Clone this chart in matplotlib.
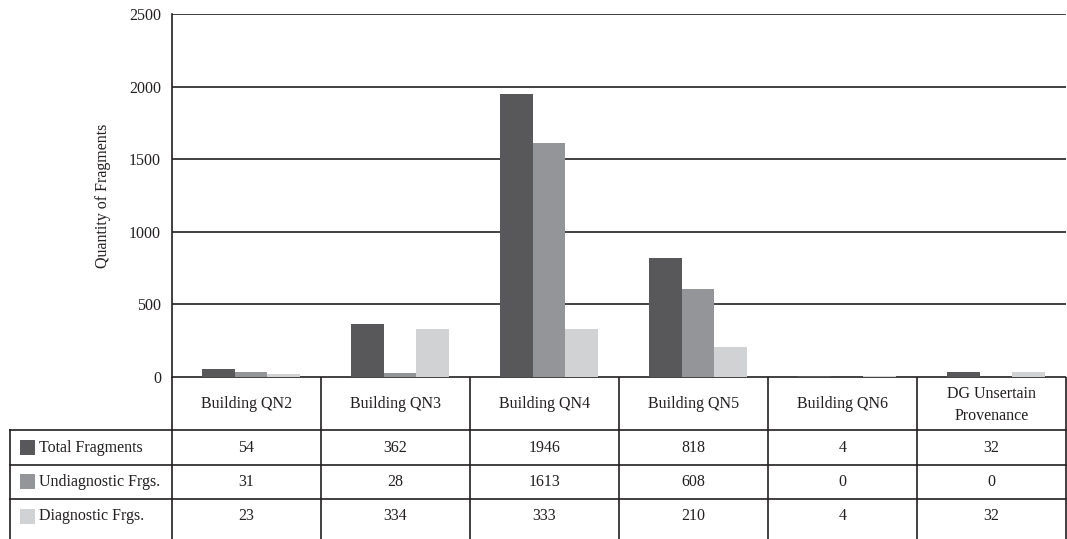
import matplotlib
matplotlib.use('Agg')
import matplotlib.pyplot as plt
import numpy as np
from matplotlib.patches import Rectangle

plt.rcParams['font.family'] = ['Liberation Serif', 'DejaVu Serif']

# Data
categories = ['Building QN2', 'Building QN3', 'Building QN4', 'Building QN5',
              'Building QN6', 'DG Unsertain\nProvenance']
series_names = ['Total Fragments', 'Undiagnostic Frgs.', 'Diagnostic Frgs.']
total = [54, 362, 1946, 818, 4, 32]
undiag = [31, 28, 1613, 608, 0, 0]
diag = [23, 334, 333, 210, 4, 32]
colors = ['#58585a', '#939598', '#d1d2d4']
yticks = [0, 500, 1000, 1500, 2000, 2500]

FS = 11.5
TXT = '#231f20'
W, H = 1067, 539
fig = plt.figure(figsize=(W / 100, H / 100), dpi=100, facecolor='white')

# plot area in pixels
x0, x1, ytop, ybot = 172, 1066, 14, 377
ax = fig.add_axes([x0 / W, 1 - ybot / H, (x1 - x0) / W, (ybot - ytop) / H])

n = len(categories)
x = np.arange(n)
bw = 0.22
for i, (vals, c) in enumerate(zip([total, undiag, diag], colors)):
    ax.bar(x + (i - 1) * bw + 0.03, vals, width=bw, color=c, zorder=2)

ax.set_xlim(-0.5, n - 0.5)
ax.set_ylim(0, 2500)
ax.set_yticks(yticks)
ax.set_yticklabels([str(v) for v in yticks], fontsize=FS, color=TXT)
ax.tick_params(axis='y', length=0, pad=8)
ax.set_xticks([])
ax.grid(True, axis='y', color=TXT, linewidth=1.2, zorder=1)
for s in ['top', 'right', 'bottom']:
    ax.spines[s].set_visible(False)
ax.spines['left'].set_color(TXT)
ax.spines['left'].set_linewidth(1.2)
ax.set_ylabel('Quantity of Fragments', fontsize=FS, labelpad=13, color=TXT)

# data table below the plot
tab = fig.add_axes([0, 0, 1, 1 - ybot / H])
tab.set_xlim(0, W)
tab.set_ylim(H, ybot)
tab.axis('off')
lw = 1.2
row_y = [ybot, 430, 465, 499, 534]
col_x = np.linspace(x0, x1, n + 1)
tab.plot([x0, x1], [row_y[0], row_y[0]], color=TXT, lw=lw)
for ry in row_y[1:4]:
    tab.plot([10, x1], [ry, ry], color=TXT, lw=lw)
for cx in col_x:
    tab.plot([cx, cx], [row_y[0], H], color=TXT, lw=lw)
tab.plot([10, 10], [row_y[1], H], color=TXT, lw=lw)

for j, cat in enumerate(categories):
    cx = (col_x[j] + col_x[j + 1]) / 2
    tab.text(cx, (row_y[0] + row_y[1]) / 2 + 1, cat, ha='center', va='center',
             fontsize=FS, linespacing=1.5, color=TXT)

for r, (name, vals, c) in enumerate(zip(series_names, [total, undiag, diag], colors)):
    ymid = (row_y[r + 1] + row_y[r + 2]) / 2
    tab.add_patch(Rectangle((20, ymid - 8), 15, 15, facecolor=c, edgecolor='none'))
    tab.text(39, ymid, name, ha='left', va='center', fontsize=FS, color=TXT)
    for j, v in enumerate(vals):
        cx = (col_x[j] + col_x[j + 1]) / 2
        tab.text(cx, ymid, str(v), ha='center', va='center', fontsize=FS, color=TXT)

fig.savefig('out.png', dpi=100, facecolor='white')
